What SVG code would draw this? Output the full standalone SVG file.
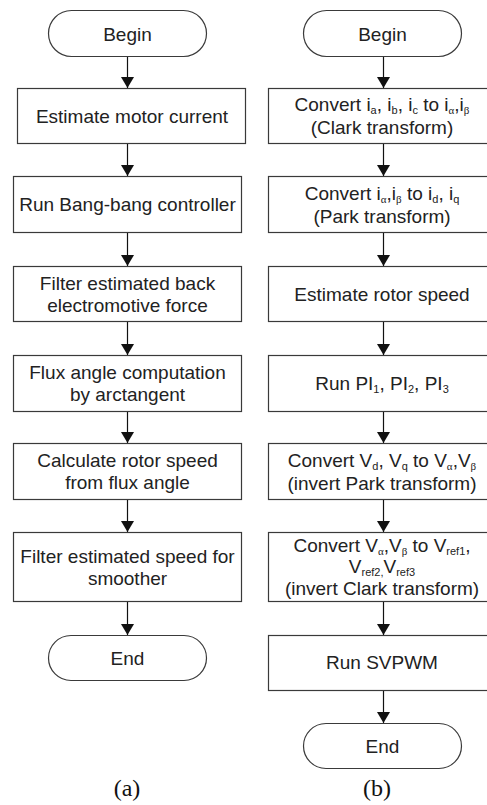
<svg xmlns="http://www.w3.org/2000/svg" width="487" height="805" viewBox="0 0 487 805">
  <style>
    .node rect { fill: #fff; stroke: #3a3a3a; stroke-width: 1.2; }
    .node text { font-family: "Liberation Sans", Arial, sans-serif; font-size: 19px; fill: #222; text-anchor: middle; }
    .s { font-size: 11px; }
    .gk { font-family: "Liberation Serif", "Times New Roman", serif; }
    .conn line { stroke: #111; stroke-width: 1.2; marker-end: url(#ah); }
    .cap { font-family: "Liberation Serif", "Times New Roman", serif; font-size: 24px; fill: #111; text-anchor: middle; }
  </style>
  <defs>
    <marker id="ah" markerUnits="userSpaceOnUse" markerWidth="11" markerHeight="13" viewBox="0 0 11 13" refX="11" refY="6.5" orient="auto">
      <path d="M0,0 L11,6.5 L0,13 z" fill="#111"/>
    </marker>
  </defs>

  <rect width="487" height="805" fill="#fff"/>

  <!-- Flowchart (a): sensorless speed estimation -->
  <g id="a-begin" class="node">
    <rect x="48.5" y="10.5" width="158" height="46" rx="23" ry="23"/>
    <text x="127.5" y="40.5">Begin</text>
  </g>
  <g id="a-estimate-current" class="node">
    <rect x="17.5" y="88.5" width="228" height="55"/>
    <text x="132" y="122.5">Estimate motor current</text>
  </g>
  <g id="a-bang-bang" class="node">
    <rect x="13.5" y="176.5" width="228" height="56"/>
    <text x="127.5" y="211">Run Bang-bang controller</text>
  </g>
  <g id="a-filter-emf" class="node">
    <rect x="13.5" y="266.5" width="228" height="55"/>
    <text x="127.5" y="289.5">Filter estimated back</text>
    <text x="127.5" y="311.5">electromotive force</text>
  </g>
  <g id="a-flux-angle" class="node">
    <rect x="13.5" y="355.5" width="228" height="56"/>
    <text x="127.5" y="379">Flux angle computation</text>
    <text x="127.5" y="401">by arctangent</text>
  </g>
  <g id="a-rotor-speed" class="node">
    <rect x="13.5" y="443.5" width="228" height="56"/>
    <text x="127.5" y="467">Calculate rotor speed</text>
    <text x="127.5" y="489">from flux angle</text>
  </g>
  <g id="a-filter-speed" class="node">
    <rect x="13.5" y="532.5" width="228" height="69"/>
    <text x="127.5" y="562.5">Filter estimated speed for</text>
    <text x="127.5" y="584.5">smoother</text>
  </g>
  <g id="a-end" class="node">
    <rect x="48.5" y="635.5" width="158" height="45" rx="22.5" ry="22.5"/>
    <text x="127.5" y="664.5">End</text>
  </g>

  <!-- Flowchart (b): field-oriented control loop -->
  <g id="b-begin" class="node">
    <rect x="303.5" y="10.5" width="158" height="46" rx="23" ry="23"/>
    <text x="382.5" y="40.5">Begin</text>
  </g>
  <g id="b-clark" class="node">
    <rect x="268.5" y="88.5" width="228" height="55"/>
    <text x="382" y="111">Convert i<tspan class="s" dy="3">a</tspan><tspan dy="-3">, i</tspan><tspan class="s" dy="3">b</tspan><tspan dy="-3">, i</tspan><tspan class="s" dy="3">c</tspan><tspan dy="-3"> to i</tspan><tspan class="s gk" dy="3">α</tspan><tspan dy="-3">,i</tspan><tspan class="s gk" dy="3">β</tspan></text>
    <text x="382" y="134">(Clark transform)</text>
  </g>
  <g id="b-park" class="node">
    <rect x="268.5" y="176.5" width="228" height="56"/>
    <text x="382" y="200">Convert i<tspan class="s gk" dy="3">α</tspan><tspan dy="-3">,i</tspan><tspan class="s gk" dy="3">β</tspan><tspan dy="-3"> to i</tspan><tspan class="s" dy="3">d</tspan><tspan dy="-3">, i</tspan><tspan class="s" dy="3">q</tspan></text>
    <text x="382" y="223">(Park transform)</text>
  </g>
  <g id="b-estimate-speed" class="node">
    <rect x="268.5" y="266.5" width="228" height="55"/>
    <text x="382" y="300.5">Estimate rotor speed</text>
  </g>
  <g id="b-pi" class="node">
    <rect x="268.5" y="355.5" width="228" height="56"/>
    <text x="382" y="390">Run PI<tspan class="s" dy="3">1</tspan><tspan dy="-3">, PI</tspan><tspan class="s" dy="3">2</tspan><tspan dy="-3">, PI</tspan><tspan class="s" dy="3">3</tspan></text>
  </g>
  <g id="b-inv-park" class="node">
    <rect x="268.5" y="443.5" width="228" height="56"/>
    <text x="382" y="467">Convert V<tspan class="s" dy="3">d</tspan><tspan dy="-3">, V</tspan><tspan class="s" dy="3">q</tspan><tspan dy="-3"> to V</tspan><tspan class="s gk" dy="3">α</tspan><tspan dy="-3">,V</tspan><tspan class="s gk" dy="3">β</tspan></text>
    <text x="382" y="490">(invert Park transform)</text>
  </g>
  <g id="b-inv-clark" class="node">
    <rect x="268.5" y="532.5" width="228" height="69"/>
    <text x="382" y="552">Convert V<tspan class="s gk" dy="3">α</tspan><tspan dy="-3">,V</tspan><tspan class="s gk" dy="3">β</tspan><tspan dy="-3"> to V</tspan><tspan class="s" dy="3">ref1</tspan><tspan dy="-3">,</tspan></text>
    <text x="382" y="573">V<tspan class="s" dy="3">ref2,</tspan><tspan dy="-3">V</tspan><tspan class="s" dy="3">ref3</tspan></text>
    <text x="382" y="595">(invert Clark transform)</text>
  </g>
  <g id="b-svpwm" class="node">
    <rect x="268.5" y="635.5" width="228" height="55"/>
    <text x="382" y="669">Run SVPWM</text>
  </g>
  <g id="b-end" class="node">
    <rect x="303.5" y="723.5" width="158" height="45" rx="22.5" ry="22.5"/>
    <text x="382.5" y="752.5">End</text>
  </g>

  <!-- Connectors -->
  <g id="connectors" class="conn">
    <line x1="127.5" y1="57" x2="127.5" y2="88"/>
    <line x1="127.5" y1="144" x2="127.5" y2="176"/>
    <line x1="127.5" y1="233" x2="127.5" y2="266"/>
    <line x1="127.5" y1="322" x2="127.5" y2="355"/>
    <line x1="127.5" y1="412" x2="127.5" y2="443"/>
    <line x1="127.5" y1="500" x2="127.5" y2="532"/>
    <line x1="127.5" y1="602" x2="127.5" y2="635"/>

    <line x1="383.5" y1="57" x2="383.5" y2="88"/>
    <line x1="383.5" y1="144" x2="383.5" y2="176"/>
    <line x1="383.5" y1="233" x2="383.5" y2="266"/>
    <line x1="383.5" y1="322" x2="383.5" y2="355"/>
    <line x1="383.5" y1="412" x2="383.5" y2="443"/>
    <line x1="383.5" y1="500" x2="383.5" y2="532"/>
    <line x1="383.5" y1="602" x2="383.5" y2="635"/>
    <line x1="383.5" y1="691" x2="383.5" y2="723"/>
  </g>

  <!-- Sub-figure captions -->
  <text class="cap" x="127" y="796">(a)</text>
  <text class="cap" x="377" y="796">(b)</text>
</svg>
